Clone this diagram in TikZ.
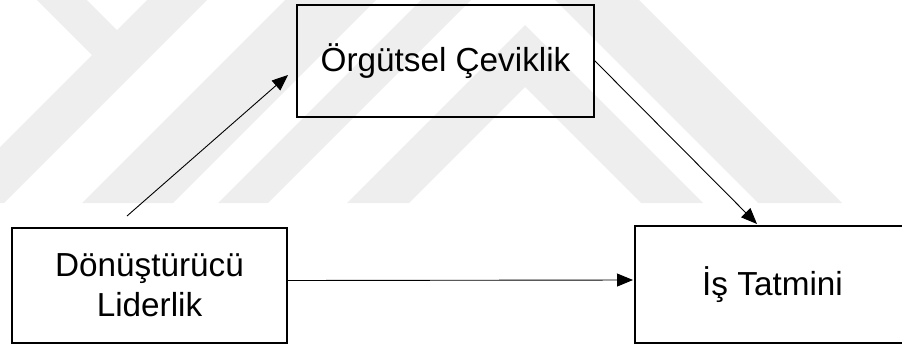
\documentclass[tikz,border=0pt]{standalone}
\usepackage{fontspec}
\setmainfont{Liberation Sans}
\usetikzlibrary{arrows.meta,calc}
\definecolor{wm}{RGB}{238,238,238}
\tikzset{
  box/.style={draw=black, line width=1.2pt, rectangle, inner sep=0pt, outer sep=0pt,
    align=center, font=\fontsize{33.3}{40}\selectfont},
  heavy/.style={line width=2.8pt, line cap=rect},
  arr/.style={line width=0.9pt, -{Triangle[length=16pt,width=13pt]}},
  band/.style={fill=wm, draw=none}
}
\begin{document}
\begin{tikzpicture}[x=1pt,y=-1pt]
\useasboundingbox (0,0) rectangle (902,346);
% watermark bands
\fill[band] (37,0) -- (87,0) -- (117,30) -- (147,0) -- (207,0) -- (4,203) -- (0,203) -- (0,147) -- (92,55) -- cycle;
\fill[band] (82,203) -- (173,203) -- (376,0) -- (285,0) -- cycle;
\fill[band] (218,203) -- (268,203) -- (471,0) -- (421,0) -- cycle;
\fill[band] (525,25) -- (703,203) -- (641,203) -- (525,87) -- (409,203) -- (347,203) -- cycle;
\fill[band] (758,203) -- (842,203) -- (639,0) -- (555,0) -- cycle;
% boxes
\node[box, minimum width=297pt, minimum height=112pt] (O) at (445.5,61) {Örgütsel Çeviklik};
\node[box, minimum width=275pt, minimum height=115pt] (L) at (149.5,285.5) {Dönüştürücü\\[0pt]Liderlik};
\node[box, minimum width=275pt, minimum height=117pt] (R) at (772.5,284.5) {İş Tatmini};
\draw[heavy] (O.north west) -- (O.south west) -- (O.south east);
\draw[heavy] (L.north west) -- (L.south west) -- (L.south east);
\draw[heavy] (R.north west) -- (R.south west) -- (R.south east);
% connectors
\draw[arr] ($(L.north west)+(115,-12)$) -- ($(O.west)+(-9,14)$);
\draw[arr] ($(O.east)+(0,-1)$) -- ($(R.north west)+(122,-2)$);
\draw[arr] ($(L.east)+(0,-5)$) -- ($(R.west)+(-2,-4.5)$);
\end{tikzpicture}
\end{document}
